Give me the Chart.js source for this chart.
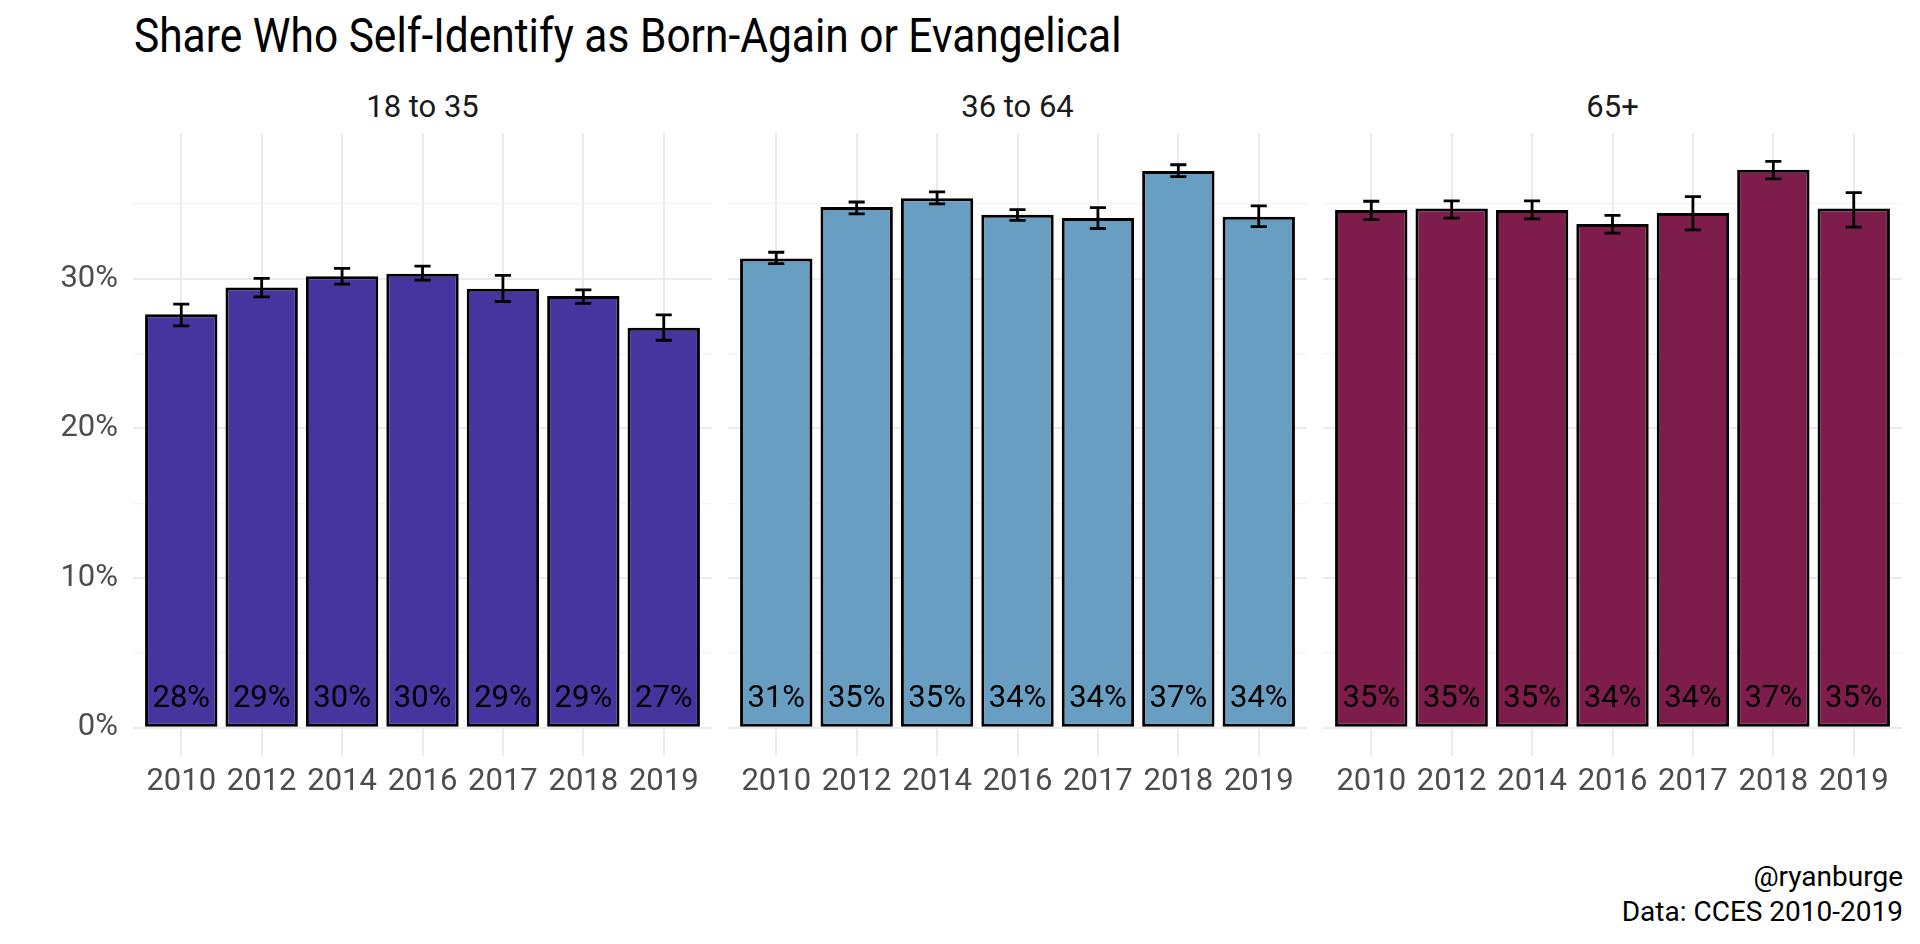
<!DOCTYPE html>
<html><head><meta charset="utf-8">
<script src="https://cdn.jsdelivr.net/npm/chart.js@4.4.1/dist/chart.umd.min.js"></script>
<style>
html,body{margin:0;padding:0;background:#fff;width:1920px;height:944px;overflow:hidden;font-family:Roboto,sans-serif;}
canvas{position:absolute;}
.t{position:absolute;white-space:nowrap;}
#title{left:134px;top:12px;font-size:48px;line-height:48px;color:#000;transform-origin:0 0;transform:scaleX(0.885);}
.strip{top:91px;font-size:31px;line-height:31px;color:#1a1a1a;transform:translateX(-50%);}
#caption{right:17px;top:859px;font-size:28px;line-height:35px;text-align:right;color:#000;}
</style></head><body>
<div id="title" class="t"></div>
<div id="caption" class="t"></div>
<script>
// ---- data ----
const titleText = 'Share Who Self-Identify as Born-Again or Evangelical';
const captionLines = ['@ryanburge', 'Data: CCES 2010-2019'];
const years = ['2010','2012','2014','2016','2017','2018','2019'];
const panelNames = ['18 to 35','36 to 64','65+'];

const share18to35 = [27.63, 29.42, 30.16, 30.33, 29.33, 28.84, 26.72];
const low18to35   = [26.85, 28.79, 29.64, 29.91, 28.48, 28.35, 25.89];
const high18to35  = [28.30, 30.02, 30.69, 30.85, 30.22, 29.26, 27.59];

const share36to64 = [31.35, 34.80, 35.38, 34.28, 34.06, 37.20, 34.15];
const low36to64   = [31.01, 34.33, 35.00, 33.90, 33.36, 36.82, 33.48];
const high36to64  = [31.77, 35.13, 35.81, 34.62, 34.75, 37.62, 34.87];

const share65plus = [34.60, 34.69, 34.60, 33.66, 34.39, 37.29, 34.69];
const low65plus   = [33.95, 34.05, 34.00, 33.05, 33.27, 36.68, 33.45];
const high65plus  = [35.18, 35.20, 35.20, 34.24, 35.49, 37.85, 35.76];

const yMajorTicks = [0, 10, 20, 30];
const yMinorTicks = [5, 15, 25, 35];

// ---- styles / layout ----
const panelColors = ['#47359f', '#679ec1', '#7e1c4b'];
const PLOT_TOP = 133, CANVAS_TOP = 120, CANVAS_H = 720, X_AXIS_H = 84;
const PANEL_L = [133, 728, 1323], PANEL_R = [712, 1307, 1902];
const Y_MIN = -1.89, Y_MAX = 39.74, LABEL_Y = 1.9;

document.getElementById('title').textContent = titleText;
document.getElementById('caption').innerHTML = captionLines.map(s => '<div>' + s + '</div>').join('');

function makePanel(i, values, lo, hi) {
  const strip = document.createElement('div');
  strip.className = 't strip';
  strip.textContent = panelNames[i];
  strip.style.left = ((PANEL_L[i] + PANEL_R[i]) / 2) + 'px';
  document.body.appendChild(strip);

  const cv = document.createElement('canvas');
  const left = i === 0 ? 0 : PANEL_L[i] - 6;
  const right = PANEL_R[i] + 6;
  const w = right - left;
  cv.width = w; cv.height = CANVAS_H;
  cv.style.left = left + 'px'; cv.style.top = CANVAS_TOP + 'px';
  cv.style.width = w + 'px'; cv.style.height = CANVAS_H + 'px';
  document.body.appendChild(cv);
  const yAxisW = i === 0 ? PANEL_L[0] : 0;
  const padL = i === 0 ? 0 : PANEL_L[i] - left;
  const padR = right - PANEL_R[i];

  const errPlugin = {
    id: 'err' + i,
    afterDatasetsDraw(chart) {
      const ctx = chart.ctx, xs = chart.scales.x, ys = chart.scales.y;
      ctx.save();
      ctx.strokeStyle = '#000'; ctx.lineWidth = 2.8; ctx.lineCap = 'butt';
      for (let k = 0; k < values.length; k++) {
        const cx = xs.getPixelForValue(k);
        const hw = xs.getPixelForValue(k + 0.1) - cx;
        const yt = ys.getPixelForValue(hi[k]), yb = ys.getPixelForValue(lo[k]);
        ctx.beginPath();
        ctx.moveTo(cx, yt); ctx.lineTo(cx, yb);
        ctx.moveTo(cx - hw, yt); ctx.lineTo(cx + hw, yt);
        ctx.moveTo(cx - hw, yb); ctx.lineTo(cx + hw, yb);
        ctx.stroke();
      }
      ctx.fillStyle = '#000'; ctx.font = '31px Roboto';
      ctx.textAlign = 'center'; ctx.textBaseline = 'middle';
      for (let k = 0; k < values.length; k++) {
        ctx.fillText(Math.round(values[k]) + '%', xs.getPixelForValue(k), ys.getPixelForValue(LABEL_Y));
      }
      ctx.restore();
    }
  };

  new Chart(cv, {
    type: 'bar',
    data: { datasets: [{
      data: values.map((v, k) => ({ x: k, y: v })),
      backgroundColor: panelColors[i], borderColor: '#000', borderWidth: 3,
      borderSkipped: false, barPercentage: 0.9, categoryPercentage: 1
    }] },
    options: {
      responsive: false, animation: false, devicePixelRatio: 1,
      layout: { padding: { left: padL, right: padR, top: PLOT_TOP - CANVAS_TOP, bottom: 0 } },
      plugins: { legend: { display: false }, tooltip: { enabled: false }, title: { display: false } },
      scales: {
        x: {
          type: 'linear', min: -0.6, max: years.length - 0.4, offset: false,
          afterBuildTicks(s) { s.ticks = years.map((_, k) => ({ value: k })); },
          afterFit(s) { s.height = X_AXIS_H; s.paddingLeft = 0; s.paddingRight = 0; },
          ticks: { callback: v => years[v], font: { family: 'Roboto', size: 31 }, color: '#4d4d4d',
                   padding: 8, autoSkip: false, maxRotation: 0, minRotation: 0 },
          grid: { color: '#ebebeb', lineWidth: 2, drawTicks: false, offset: false },
          border: { display: false }
        },
        y: {
          min: Y_MIN, max: Y_MAX,
          afterBuildTicks(s) { s.ticks = [...yMajorTicks, ...yMinorTicks].sort((a, b) => a - b).map(v => ({ value: v })); },
          afterFit(s) { s.width = yAxisW; s.paddingTop = 0; s.paddingBottom = 0; },
          ticks: { display: i === 0, callback: v => yMajorTicks.includes(v) ? v + '%' : '',
                   font: { family: 'Roboto', size: 31 }, color: '#4d4d4d', padding: 15 },
          grid: {
            color: c => (c.tick && yMajorTicks.includes(c.tick.value)) ? '#ebebeb' : '#f3f3f3',
            lineWidth: c => (c.tick && yMajorTicks.includes(c.tick.value)) ? 2 : 1.3,
            drawTicks: false
          },
          border: { display: false }
        }
      }
    },
    plugins: [errPlugin]
  });
}

makePanel(0, share18to35, low18to35, high18to35);
makePanel(1, share36to64, low36to64, high36to64);
makePanel(2, share65plus, low65plus, high65plus);
</script>
</body></html>
